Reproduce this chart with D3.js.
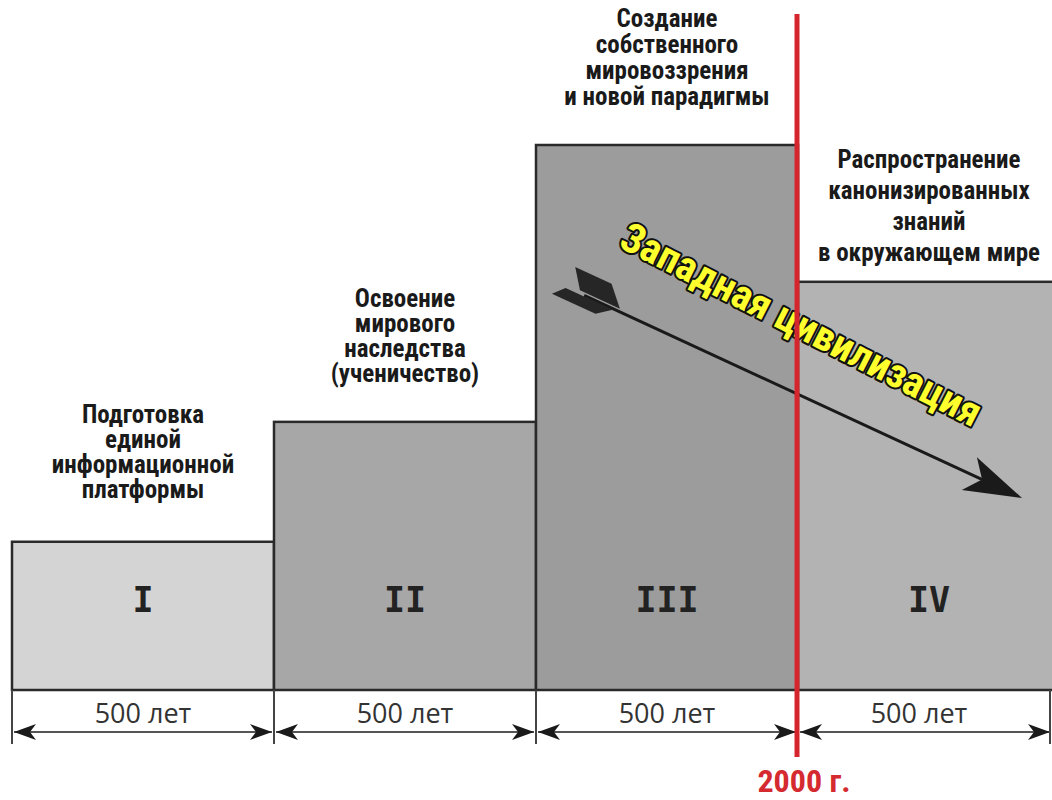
<!DOCTYPE html>
<html>
<head>
<meta charset="utf-8">
<script src="https://cdn.jsdelivr.net/npm/d3@7"></script>
<style>
  html, body { margin: 0; padding: 0; background: #fff; }
  svg { display: block; }
</style>
</head>
<body>
<svg id="chart" width="1052" height="800"></svg>
<script>
// ---- data ----
const categories = ["I", "II", "III", "IV"];
const periodStart = [500, 1000, 1500, 2000];      // years
const periodLength = [500, 500, 500, 500];         // years
const levels = [27.2, 49.2, 100, 74.9];            // relative height of each stage
const durationLabels = ["500 лет", "500 лет", "500 лет", "500 лет"];
const stageLabels = [
  ["Подготовка", "единой", "информационной", "платформы"],
  ["Освоение", "мирового", "наследства", "(ученичество)"],
  ["Создание", "собственного", "мировоззрения", "и новой парадигмы"],
  ["Распространение", "канонизированных", "знаний", "в окружающем мире"]
];
const markerYear = 2000;
const markerLabel = "2000 г.";
const trendLabel = "Западная цивилизация";

// ---- layout ----
const svg = d3.select("#chart");
const baseY = 690;
const x = d3.scaleLinear().domain([500, 2500]).range([12, 1060]);
const y = d3.scaleLinear().domain([0, 100]).range([baseY, 145]);
const fills = ["#d4d4d4", "#a7a7a7", "#9c9c9c", "#b3b3b3"];
const labelGap = [44, 40, 40, 21];
const lineH = [25, 25, 26, 31];
const narrow = "'Liberation Sans Narrow', 'Arial Narrow', 'Roboto Condensed', sans-serif";

const data = categories.map((c, i) => ({
  c, i, x0: periodStart[i], x1: periodStart[i] + periodLength[i], v: levels[i]
}));

// bars
svg.append("g").selectAll("rect").data(data).join("rect")
  .attr("x", d => x(d.x0))
  .attr("y", d => y(d.v))
  .attr("width", d => x(d.x1) - x(d.x0))
  .attr("height", d => y(0) - y(d.v))
  .attr("fill", (d, i) => fills[i])
  .attr("stroke", "#2a2a2a")
  .attr("stroke-width", 2.5);

// roman numerals
svg.append("g").selectAll("text").data(data).join("text")
  .attr("x", d => (x(d.x0) + x(d.x1)) / 2)
  .attr("y", 612)
  .attr("text-anchor", "middle")
  .attr("font-family", "'DejaVu Sans Mono', monospace")
  .attr("font-weight", "bold")
  .attr("font-size", 35)
  .attr("fill", "#222")
  .text(d => d.c);

// stage labels
const lg = svg.append("g");
data.forEach((d, i) => {
  const lines = stageLabels[i];
  const cx = (x(d.x0) + x(d.x1)) / 2;
  const lastBase = y(d.v) - labelGap[i];
  const t = lg.append("text")
    .attr("text-anchor", "middle")
    .attr("font-family", narrow)
    .attr("font-weight", "bold")
    .attr("font-size", 25)
    .attr("fill", "#1a1a1a");
  lines.forEach((ln, k) => {
    t.append("tspan").attr("x", cx)
      .attr("y", lastBase - (lines.length - 1 - k) * lineH[i])
      .text(ln);
  });
});

// dimension lines
const dimY = 732;
const dg = svg.append("g");
const bounds = periodStart.concat([periodStart[3] + periodLength[3]]);
bounds.forEach(b => {
  dg.append("line")
    .attr("x1", Math.min(x(b), 1050)).attr("x2", Math.min(x(b), 1050))
    .attr("y1", baseY).attr("y2", 744)
    .attr("stroke", "#444").attr("stroke-width", 2);
});
data.forEach((d, i) => {
  const a = x(d.x0) + 2, b = Math.min(x(d.x1), 1052) - 2;
  dg.append("line").attr("x1", a).attr("x2", b).attr("y1", dimY).attr("y2", dimY)
    .attr("stroke", "#555").attr("stroke-width", 2);
  dg.append("path")
    .attr("d", `M${a},${dimY} L${a + 22},${dimY - 8} L${a + 16},${dimY} L${a + 22},${dimY + 8} Z`)
    .attr("fill", "#1a1a1a");
  dg.append("path")
    .attr("d", `M${b},${dimY} L${b - 22},${dimY - 8} L${b - 16},${dimY} L${b - 22},${dimY + 8} Z`)
    .attr("fill", "#1a1a1a");
  dg.append("text")
    .attr("x", (x(d.x0) + Math.min(x(d.x1), 1052)) / 2 + (i === 3 ? -6 : 0))
    .attr("y", 723)
    .attr("text-anchor", "middle")
    .attr("font-family", "'Open Sans', sans-serif")
    .attr("font-size", 27)
    .attr("fill", "#333")
    .text(durationLabels[i]);
});

// trend arrow (Western civilization)
const tail = [566, 287], head = [1022, 498];
const ang = Math.atan2(head[1] - tail[1], head[0] - tail[0]) * 180 / Math.PI;
const L = Math.hypot(head[0] - tail[0], head[1] - tail[1]);
const ag = svg.append("g").attr("transform", `translate(${tail[0]},${tail[1]}) rotate(${ang})`);
ag.append("line").attr("x1", 20).attr("x2", L - 30).attr("y1", 0).attr("y2", 0)
  .attr("stroke", "#1a1a1a").attr("stroke-width", 3);
ag.append("path")
  .attr("d", `M${L},0 L${L - 58},-18 L${L - 44},0 L${L - 58},18 Z`)
  .attr("fill", "#1a1a1a");
// fletching
ag.append("path").attr("d", "M14,-3 L58,-3 L40,-22 L0,-22 Z").attr("fill", "#262626");
ag.append("path").attr("d", "M0,1 L52,1 L38,12 L-10,12 Z").attr("fill", "#262626");

// trend label
svg.append("text")
  .attr("transform", "translate(795,337) rotate(27)")
  .attr("text-anchor", "middle")
  .attr("font-family", narrow)
  .attr("font-weight", "bold")
  .attr("font-size", 41)
  .attr("fill", "#ffff2e")
  .attr("stroke", "#111")
  .attr("stroke-width", 4)
  .attr("stroke-linejoin", "round")
  .attr("paint-order", "stroke")
  .text(trendLabel);

// 2000 marker
svg.append("line")
  .attr("x1", x(markerYear) - 1).attr("x2", x(markerYear) - 1)
  .attr("y1", 14).attr("y2", 757)
  .attr("stroke", "#d6262d").attr("stroke-width", 5);
svg.append("text")
  .attr("x", 804).attr("y", 792)
  .attr("text-anchor", "middle")
  .attr("font-family", narrow)
  .attr("font-weight", "bold")
  .attr("font-size", 32)
  .attr("fill", "#d42a30")
  .text(markerLabel);
</script>
</body>
</html>
